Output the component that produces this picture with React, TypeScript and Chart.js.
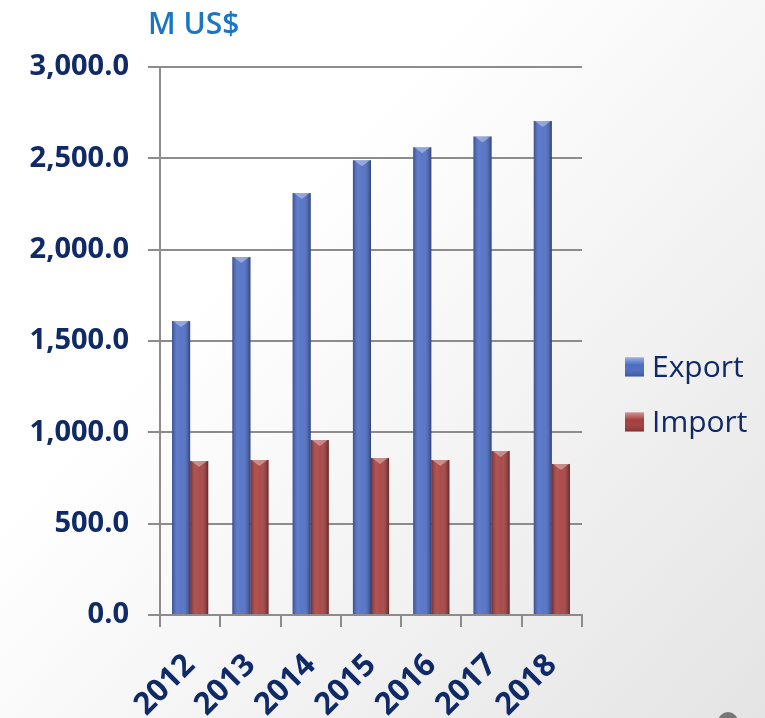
import React, { useEffect, useRef } from "react";
import { Chart, registerables } from "chart.js";

Chart.register(...registerables);

const years = ["2012", "2013", "2014", "2015", "2016", "2017", "2018"];
const exportValues = [1610, 1960, 2310, 2490, 2560, 2620, 2705];
const importValues = [843, 849, 958, 860, 849, 898, 827];
const seriesNames = ["Export", "Import"];
const unitLabel = "M US$";
const yMin = 0;
const yMax = 3000;
const yStep = 500;

const exportColor = "#4b6bc4";
const importColor = "#a53c3c";
const navy = "#0f2a66";
const gridGray = "#8c8c8c";

const fmt = (v: number) =>
  v.toLocaleString("en-US", { minimumFractionDigits: 1, maximumFractionDigits: 1 });

const decorPlugin = {
  id: "decor",
  beforeDraw(chart: any) {
    const { ctx, width, height } = chart;
    ctx.save();
    const g = ctx.createLinearGradient(250, 250, width, height);
    g.addColorStop(0, "#ffffff");
    g.addColorStop(1, "#e4e4e4");
    ctx.fillStyle = g;
    ctx.fillRect(0, 0, width, height);
    ctx.restore();
  },
  afterDatasetsDraw(chart: any) {
    const { ctx } = chart;
    ctx.save();
    chart.data.datasets.forEach((ds: any, di: number) => {
      const meta = chart.getDatasetMeta(di);
      meta.data.forEach((bar: any) => {
        const left = bar.x - bar.width / 2;
        const w = bar.width;
        const top = Math.min(bar.y, bar.base);
        const h = Math.abs(bar.base - bar.y);
        const g = ctx.createLinearGradient(left, 0, left + w, 0);
        g.addColorStop(0, "rgba(0,0,0,0.28)");
        g.addColorStop(0.3, "rgba(255,255,255,0.12)");
        g.addColorStop(0.55, "rgba(255,255,255,0.08)");
        g.addColorStop(1, "rgba(0,0,0,0.38)");
        ctx.fillStyle = g;
        ctx.fillRect(left, top, w, h);
        ctx.beginPath();
        ctx.moveTo(left + 1, top);
        ctx.lineTo(left + w - 1, top);
        ctx.lineTo(left + w / 2, top + 6);
        ctx.closePath();
        ctx.fillStyle = "rgba(255,255,255,0.35)";
        ctx.fill();
      });
    });
    ctx.restore();
  },
  afterDraw(chart: any) {
    const { ctx, chartArea, width, height } = chart;
    ctx.save();
    ctx.font = "600 30px 'Open Sans'";
    ctx.fillStyle = "#1b75c6";
    ctx.textAlign = "left";
    ctx.textBaseline = "alphabetic";
    ctx.fillText(unitLabel, chartArea.left - 12, 34);
    const colors = [exportColor, importColor];
    const lx = chartArea.right + 43;
    const centerY = (chartArea.top + chartArea.bottom) / 2;
    const rowH = 55;
    chart.data.datasets.forEach((ds: any, i: number) => {
      const cy = centerY + 26 + i * rowH;
      const bx = lx;
      const bs = 19;
      const g = ctx.createLinearGradient(0, cy - bs / 2, 0, cy + bs / 2);
      g.addColorStop(0, "rgba(255,255,255,0.45)");
      g.addColorStop(0.4, "rgba(255,255,255,0)");
      g.addColorStop(1, "rgba(0,0,0,0.2)");
      ctx.fillStyle = colors[i];
      ctx.fillRect(bx, cy - bs / 2, bs, bs);
      ctx.fillStyle = g;
      ctx.fillRect(bx, cy - bs / 2, bs, bs);
      ctx.font = "30px 'Open Sans'";
      ctx.fillStyle = navy;
      ctx.textBaseline = "middle";
      ctx.fillText(ds.label, bx + 27, cy + 1);
    });
    ctx.beginPath();
    ctx.arc(width - 37, height + 4, 10, 0, Math.PI * 2);
    ctx.fillStyle = "#777777";
    ctx.fill();
    ctx.restore();
  },
};

export default function App() {
  const ref = useRef<HTMLCanvasElement | null>(null);
  useEffect(() => {
    if (!ref.current) return;
    const chart = new Chart(ref.current, {
      type: "bar",
      data: {
        labels: years,
        datasets: [
          { label: seriesNames[0], data: exportValues, backgroundColor: exportColor, borderWidth: 0 },
          { label: seriesNames[1], data: importValues, backgroundColor: importColor, borderWidth: 0 },
        ],
      },
      options: {
        responsive: false,
        animation: false,
        layout: { padding: { top: 67, right: 183, bottom: 0, left: 0 } },
        datasets: { bar: { categoryPercentage: 0.6, barPercentage: 1.0 } },
        plugins: {
          legend: { display: false },
          tooltip: { enabled: false },
          title: { display: false },
        },
        scales: {
          x: {
            afterFit(scale: any) {
              scale.height = 103;
            },
            grid: {
              drawOnChartArea: false,
              drawTicks: true,
              tickLength: 12,
              color: gridGray,
              lineWidth: 2,
              offset: true,
            },
            border: { display: true, color: gridGray, width: 2 },
            ticks: {
              minRotation: 45,
              maxRotation: 45,
              padding: 20,
              color: navy,
              font: { family: "'Open Sans'", size: 31, weight: "bold" },
            },
          },
          y: {
            min: yMin,
            max: yMax,
            afterFit(scale: any) {
              scale.width = 160;
            },
            grid: { color: gridGray, lineWidth: 2, tickLength: 12 },
            border: { display: true, color: gridGray, width: 2 },
            ticks: {
              stepSize: yStep,
              padding: 19,
              color: navy,
              font: { family: "'Open Sans'", size: 29, weight: "bold" },
              callback: (v: any) => fmt(Number(v)),
            },
          },
        },
      },
      plugins: [decorPlugin],
    });
    return () => chart.destroy();
  }, []);
  return (
    <div style={{ position: "absolute", left: 0, top: 0, width: 765, height: 718 }}>
      <canvas ref={ref} width={765} height={718} style={{ display: "block" }} />
    </div>
  );
}
